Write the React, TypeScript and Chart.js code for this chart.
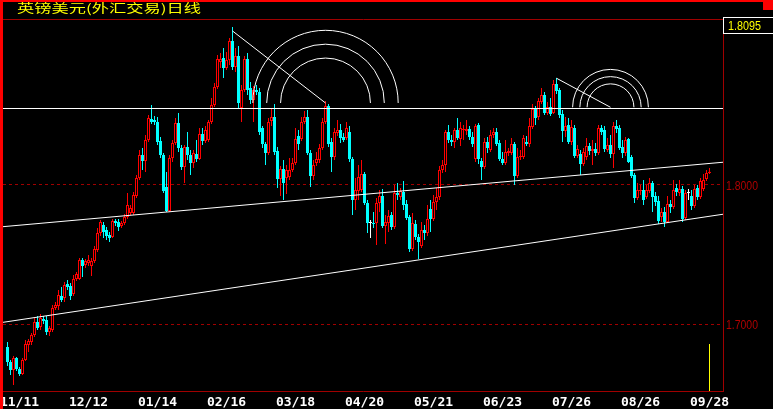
import React, { useEffect, useRef } from "react";
import { Chart, registerables } from "chart.js";

Chart.register(...registerables);

const TITLE = "英镑美元(外汇交易)日线";
const tickIndex = [4, 27, 50, 73, 96, 119, 142, 165, 188, 211, 234];
const tickLabels = ["11/11", "12/12", "01/14", "02/16", "03/18", "04/20", "05/21", "06/23", "07/26", "08/26", "09/28"];
const priceTicks = [1.7, 1.8];
const priceMin = 1.6518;
const priceMax = 1.91942;

const opens = [
  1.6835, 1.6727, 1.6669, 1.6755, 1.6676, 1.6640, 1.6741, 1.6849, 1.6871, 1.6921,
  1.7014, 1.6978, 1.7036, 1.7029, 1.6942, 1.6957, 1.7115, 1.7129, 1.7201, 1.7187,
  1.7288, 1.7273, 1.7216, 1.7324, 1.7324, 1.7460, 1.7424, 1.7439, 1.7417, 1.7453,
  1.7532, 1.7655, 1.7712, 1.7676, 1.7640, 1.7626, 1.7741, 1.7734, 1.7705, 1.7727,
  1.7770, 1.7799, 1.7799, 1.7921, 1.8050, 1.8216, 1.8173, 1.8324, 1.8475, 1.8468,
  1.8453, 1.8317, 1.8216, 1.7986, 1.7813, 1.8194, 1.8302, 1.8446, 1.8266, 1.8129,
  1.8273, 1.8216, 1.8158, 1.8223, 1.8187, 1.8367, 1.8317, 1.8324, 1.8453, 1.8576,
  1.8705, 1.8885, 1.8914, 1.8842, 1.8899, 1.9036, 1.8849, 1.8928, 1.8554, 1.8683,
  1.8906, 1.8698, 1.8612, 1.8683, 1.8669, 1.8410, 1.8295, 1.8230, 1.8460, 1.8489,
  1.8245, 1.8043, 1.8115, 1.8050, 1.8058, 1.8108, 1.8158, 1.8353, 1.8331, 1.8453,
  1.8489, 1.8230, 1.8065, 1.8158, 1.8180, 1.8266, 1.8453, 1.8568, 1.8309, 1.8201,
  1.8374, 1.8396, 1.8345, 1.8338, 1.8381, 1.8187, 1.7892, 1.7957, 1.7964, 1.8079,
  1.7871, 1.7727, 1.7727, 1.7727, 1.7871, 1.7921, 1.7705, 1.7727, 1.7784, 1.7698,
  1.7942, 1.7914, 1.7950, 1.7863, 1.7770, 1.7540, 1.7719, 1.7626, 1.7561, 1.7676,
  1.7655, 1.7827, 1.7755, 1.7878, 1.7914, 1.8108, 1.8144, 1.8381, 1.8324, 1.8309,
  1.8396, 1.8331, 1.8396, 1.8388, 1.8403, 1.8345, 1.8187, 1.8432, 1.8173, 1.8129,
  1.8309, 1.8252, 1.8360, 1.8381, 1.8302, 1.8187, 1.8158, 1.8230, 1.8230, 1.8295,
  1.8065, 1.8201, 1.8201, 1.8309, 1.8295, 1.8417, 1.8547, 1.8489, 1.8597, 1.8647,
  1.8518, 1.8561, 1.8518, 1.8727, 1.8683, 1.8511, 1.8388, 1.8432, 1.8309, 1.8410,
  1.8209, 1.8223, 1.8151, 1.8201, 1.8281, 1.8245, 1.8259, 1.8230, 1.8410, 1.8396,
  1.8252, 1.8288, 1.8223, 1.8424, 1.8410, 1.8273, 1.8230, 1.8331, 1.8201, 1.8072,
  1.7906, 1.7957, 1.7964, 1.7914, 1.7957, 1.8014, 1.7921, 1.7885, 1.7770, 1.7806,
  1.7734, 1.7863, 1.7842, 1.7978, 1.7942, 1.7971, 1.7763, 1.7942, 1.7921, 1.7849,
  1.7978, 1.7914, 1.7971, 1.8043, 1.8086,
];

const highs = [
  1.6871, 1.6741, 1.6770, 1.6763, 1.6691, 1.6755, 1.6885, 1.6892, 1.6935, 1.7043,
  1.7058, 1.7072, 1.7058, 1.7058, 1.6986, 1.7137, 1.7158, 1.7245, 1.7266, 1.7302,
  1.7317, 1.7295, 1.7353, 1.7374, 1.7475, 1.7475, 1.7468, 1.7496, 1.7475, 1.7561,
  1.7691, 1.7748, 1.7734, 1.7698, 1.7662, 1.7755, 1.7755, 1.7755, 1.7741, 1.7791,
  1.7942, 1.7856, 1.7950, 1.8072, 1.8252, 1.8266, 1.8360, 1.8504, 1.8576, 1.8496,
  1.8489, 1.8345, 1.8230, 1.8094, 1.8216, 1.8324, 1.8482, 1.8518, 1.8288, 1.8288,
  1.8381, 1.8252, 1.8252, 1.8324, 1.8410, 1.8410, 1.8424, 1.8468, 1.8626, 1.8734,
  1.8935, 1.8950, 1.8986, 1.8957, 1.9058, 1.9137, 1.8986, 1.9000, 1.8719, 1.8928,
  1.8950, 1.8741, 1.8712, 1.8719, 1.8698, 1.8424, 1.8309, 1.8482, 1.8554, 1.8583,
  1.8273, 1.8137, 1.8180, 1.8144, 1.8194, 1.8194, 1.8410, 1.8396, 1.8489, 1.8532,
  1.8540, 1.8252, 1.8180, 1.8237, 1.8295, 1.8482, 1.8604, 1.8583, 1.8338, 1.8410,
  1.8468, 1.8439, 1.8374, 1.8453, 1.8424, 1.8201, 1.8050, 1.8144, 1.8180, 1.8094,
  1.7892, 1.7748, 1.7806, 1.7906, 1.7964, 1.7971, 1.7784, 1.7820, 1.7806, 1.8000,
  1.8014, 1.7978, 1.8029, 1.7892, 1.7784, 1.7799, 1.7748, 1.7647, 1.7734, 1.7712,
  1.7856, 1.7892, 1.7928, 1.7978, 1.8137, 1.8180, 1.8396, 1.8432, 1.8360, 1.8410,
  1.8482, 1.8453, 1.8432, 1.8468, 1.8424, 1.8381, 1.8439, 1.8446, 1.8194, 1.8338,
  1.8345, 1.8396, 1.8410, 1.8410, 1.8324, 1.8237, 1.8324, 1.8266, 1.8338, 1.8309,
  1.8266, 1.8252, 1.8360, 1.8353, 1.8482, 1.8583, 1.8568, 1.8626, 1.8698, 1.8669,
  1.8597, 1.8626, 1.8755, 1.8770, 1.8698, 1.8540, 1.8489, 1.8482, 1.8468, 1.8432,
  1.8288, 1.8252, 1.8266, 1.8338, 1.8302, 1.8324, 1.8302, 1.8432, 1.8432, 1.8424,
  1.8338, 1.8360, 1.8453, 1.8468, 1.8432, 1.8324, 1.8345, 1.8338, 1.8216, 1.8086,
  1.8014, 1.8000, 1.8036, 1.8000, 1.8050, 1.8029, 1.7950, 1.7921, 1.7835, 1.7842,
  1.7921, 1.7892, 1.8036, 1.8007, 1.8036, 1.7993, 1.7964, 1.7971, 1.7964, 1.8000,
  1.8000, 1.8050, 1.8079, 1.8108, 1.8122,
];

const lows = [
  1.6698, 1.6633, 1.6561, 1.6662, 1.6626, 1.6633, 1.6734, 1.6799, 1.6849, 1.6906,
  1.6957, 1.6957, 1.7000, 1.6921, 1.6914, 1.6942, 1.7101, 1.7101, 1.7158, 1.7158,
  1.7245, 1.7173, 1.7201, 1.7309, 1.7317, 1.7338, 1.7403, 1.7417, 1.7345, 1.7439,
  1.7518, 1.7633, 1.7619, 1.7604, 1.7590, 1.7619, 1.7705, 1.7669, 1.7691, 1.7712,
  1.7755, 1.7784, 1.7784, 1.7906, 1.8036, 1.8108, 1.8094, 1.8309, 1.8439, 1.8432,
  1.8288, 1.8194, 1.7942, 1.7806, 1.7806, 1.8165, 1.8288, 1.8237, 1.8108, 1.8014,
  1.8180, 1.8072, 1.8122, 1.8165, 1.8180, 1.8288, 1.8302, 1.8309, 1.8439, 1.8561,
  1.8691, 1.8842, 1.8770, 1.8827, 1.8863, 1.8827, 1.8813, 1.8554, 1.8453, 1.8669,
  1.8647, 1.8583, 1.8453, 1.8647, 1.8360, 1.8266, 1.8144, 1.8216, 1.8424, 1.8216,
  1.7978, 1.7921, 1.7892, 1.7935, 1.8036, 1.8094, 1.8144, 1.8252, 1.8317, 1.8439,
  1.8216, 1.7986, 1.8036, 1.8137, 1.8158, 1.8252, 1.8439, 1.8273, 1.8094, 1.8180,
  1.8353, 1.8302, 1.8309, 1.8324, 1.8165, 1.7784, 1.7820, 1.7892, 1.7950, 1.7856,
  1.7655, 1.7619, 1.7691, 1.7568, 1.7806, 1.7691, 1.7576, 1.7662, 1.7676, 1.7683,
  1.7892, 1.7892, 1.7820, 1.7748, 1.7518, 1.7525, 1.7604, 1.7468, 1.7547, 1.7604,
  1.7633, 1.7662, 1.7741, 1.7820, 1.7892, 1.8086, 1.8094, 1.8302, 1.8281, 1.8266,
  1.8324, 1.8281, 1.8324, 1.8360, 1.8324, 1.8273, 1.8165, 1.8151, 1.8036, 1.8115,
  1.8230, 1.8237, 1.8338, 1.8281, 1.8173, 1.8144, 1.8144, 1.8209, 1.8216, 1.8000,
  1.8050, 1.8180, 1.8187, 1.8281, 1.8273, 1.8403, 1.8432, 1.8468, 1.8583, 1.8504,
  1.8504, 1.8496, 1.8511, 1.8655, 1.8482, 1.8309, 1.8345, 1.8295, 1.8288, 1.8194,
  1.8194, 1.8072, 1.8137, 1.8180, 1.8216, 1.8144, 1.8209, 1.8216, 1.8360, 1.8237,
  1.8237, 1.8194, 1.8122, 1.8374, 1.8252, 1.8194, 1.8209, 1.8158, 1.8050, 1.7871,
  1.7892, 1.7928, 1.7856, 1.7899, 1.7942, 1.7806, 1.7849, 1.7719, 1.7734, 1.7698,
  1.7727, 1.7799, 1.7827, 1.7921, 1.7921, 1.7734, 1.7748, 1.7892, 1.7820, 1.7835,
  1.7892, 1.7899, 1.7957, 1.8029, 1.8079,
];

const closes = [
  1.6727, 1.6669, 1.6755, 1.6676, 1.6640, 1.6741, 1.6856, 1.6878, 1.6921, 1.7014,
  1.6971, 1.7043, 1.7022, 1.6942, 1.6971, 1.7115, 1.7137, 1.7209, 1.7173, 1.7281,
  1.7266, 1.7201, 1.7324, 1.7360, 1.7460, 1.7417, 1.7453, 1.7460, 1.7453, 1.7540,
  1.7655, 1.7734, 1.7662, 1.7633, 1.7619, 1.7741, 1.7727, 1.7698, 1.7727, 1.7770,
  1.7856, 1.7835, 1.7928, 1.8050, 1.8216, 1.8173, 1.8324, 1.8482, 1.8453, 1.8453,
  1.8309, 1.8216, 1.7957, 1.7813, 1.8194, 1.8302, 1.8446, 1.8266, 1.8129, 1.8273,
  1.8216, 1.8158, 1.8230, 1.8187, 1.8367, 1.8317, 1.8396, 1.8453, 1.8576, 1.8705,
  1.8906, 1.8906, 1.8842, 1.8899, 1.9036, 1.8849, 1.8928, 1.8590, 1.8683, 1.8906,
  1.8683, 1.8612, 1.8683, 1.8669, 1.8381, 1.8295, 1.8230, 1.8453, 1.8489, 1.8237,
  1.8043, 1.8115, 1.8014, 1.8108, 1.8108, 1.8158, 1.8331, 1.8295, 1.8453, 1.8489,
  1.8230, 1.8065, 1.8144, 1.8187, 1.8266, 1.8453, 1.8568, 1.8295, 1.8201, 1.8381,
  1.8396, 1.8338, 1.8324, 1.8410, 1.8187, 1.7892, 1.7964, 1.8058, 1.8079, 1.7871,
  1.7727, 1.7727, 1.7719, 1.7871, 1.7921, 1.7705, 1.7734, 1.7777, 1.7698, 1.7942,
  1.7928, 1.7957, 1.7856, 1.7763, 1.7540, 1.7727, 1.7626, 1.7590, 1.7676, 1.7655,
  1.7755, 1.7755, 1.7878, 1.7914, 1.8108, 1.8144, 1.8381, 1.8324, 1.8309, 1.8396,
  1.8338, 1.8410, 1.8403, 1.8403, 1.8345, 1.8295, 1.8424, 1.8187, 1.8129, 1.8309,
  1.8266, 1.8360, 1.8381, 1.8295, 1.8187, 1.8158, 1.8237, 1.8245, 1.8295, 1.8065,
  1.8201, 1.8209, 1.8338, 1.8295, 1.8424, 1.8547, 1.8482, 1.8604, 1.8647, 1.8518,
  1.8561, 1.8511, 1.8727, 1.8676, 1.8504, 1.8388, 1.8424, 1.8309, 1.8417, 1.8209,
  1.8259, 1.8151, 1.8237, 1.8281, 1.8245, 1.8259, 1.8230, 1.8410, 1.8381, 1.8259,
  1.8288, 1.8223, 1.8424, 1.8403, 1.8266, 1.8230, 1.8324, 1.8165, 1.8065, 1.7906,
  1.7964, 1.7964, 1.7892, 1.7964, 1.8014, 1.7914, 1.7878, 1.7741, 1.7806, 1.7734,
  1.7863, 1.7842, 1.7964, 1.7950, 1.7971, 1.7755, 1.7942, 1.7942, 1.7849, 1.7971,
  1.7914, 1.8029, 1.8036, 1.8086, 1.8095,
];

// drawn studies (index, price)
const resistanceLevel = 1.8554;
const upperTrend = [[0, 1.7703], [234, 1.8155]];
const lowerTrend = [[0, 1.7017], [234, 1.7775]];
const fanLines = [
  [[75, 1.9108], [106, 1.8590]],
  [[183, 1.8768], [201, 1.8559]],
];
const fibRatios = [0.382, 0.5, 0.618];
const markerLevel = 1.6856;

const RED = "#ff0000";
const CYAN = "#00ffff";
const WHITE = "#ffffff";
const DARK_RED = "#a00000";
const YELLOW = "#ffff00";
const SANS = "'Liberation Sans', Arial, sans-serif";

function kindOf(i: number) {
  if (closes[i] > opens[i]) return "up";
  if (closes[i] < opens[i]) return "down";
  return "flat";
}
function colorOf(i: number) {
  const k = kindOf(i);
  return k === "up" ? RED : k === "down" ? CYAN : WHITE;
}

// draw text squeezed horizontally to a target width
function squeezedText(ctx: any, text: string, x: number, y: number, width: number) {
  const w = ctx.measureText(text).width;
  ctx.save();
  ctx.translate(x, y);
  ctx.scale(width / w, 1);
  ctx.fillText(text, 0, 0);
  ctx.restore();
}

const overlayPlugin = {
  id: "overlay",
  beforeDraw(chart: any) {
    const c = chart.ctx;
    c.save();
    c.fillStyle = "#000";
    c.fillRect(0, 0, chart.width, chart.height);
    c.restore();
  },
  afterDatasetsDraw(chart: any) {
    const { ctx, chartArea: a, scales } = chart;
    const xs = scales.x, ys = scales.y;
    const px = (i: number) => xs.getPixelForValue(i);
    const py = (p: number) => ys.getPixelForValue(p);
    const line = (x1: number, y1: number, x2: number, y2: number) => {
      ctx.beginPath();
      ctx.moveTo(x1, y1);
      ctx.lineTo(x2, y2);
      ctx.stroke();
    };
    ctx.save();
    ctx.beginPath();
    ctx.rect(a.left, a.top, a.right - a.left, a.bottom - a.top);
    ctx.clip();
    ctx.strokeStyle = WHITE;
    ctx.lineWidth = 1;
    const hy = Math.round(py(resistanceLevel)) + 0.5;
    line(a.left, hy, a.right, hy);
    for (const t of [upperTrend, lowerTrend]) {
      const x1 = px(t[0][0]), y1 = py(t[0][1]);
      const x2 = px(t[1][0]), y2 = py(t[1][1]);
      const k = (y2 - y1) / (x2 - x1);
      line(a.left, y1 + k * (a.left - x1), a.right, y1 + k * (a.right - x1));
    }
    for (const f of fanLines) {
      const x1 = px(f[0][0]), y1 = py(f[0][1]);
      const x2 = px(f[1][0]), y2 = py(f[1][1]);
      line(x1, y1, x2, y2);
      const L = Math.hypot(x2 - x1, y2 - y1);
      for (const r of fibRatios) {
        ctx.beginPath();
        ctx.arc(x2, y2, r * L, Math.PI, 2 * Math.PI);
        ctx.stroke();
      }
    }
    ctx.strokeStyle = YELLOW;
    const mx = px(closes.length - 1);
    line(mx, py(markerLevel), mx, a.bottom);
    ctx.restore();
  },
  afterDraw(chart: any) {
    const { ctx, chartArea: a, scales } = chart;
    const ys = scales.y;
    ctx.save();
    ctx.strokeStyle = DARK_RED;
    ctx.lineWidth = 1;
    ctx.beginPath();
    ctx.moveTo(a.left, a.top + 0.5);
    ctx.lineTo(a.right + 1, a.top + 0.5);
    ctx.stroke();
    ctx.fillStyle = RED;
    ctx.fillRect(0, 0, 3, chart.height);
    ctx.fillRect(0, 0, chart.width, 2);
    ctx.fillRect(763, 0, 10, 10);
    // price axis labels (positions from the y scale)
    ctx.font = "13px " + SANS;
    ctx.textAlign = "left";
    ctx.textBaseline = "middle";
    ctx.fillStyle = "#b00000";
    for (const p of priceTicks) {
      squeezedText(ctx, p.toFixed(4), a.right + 3, ys.getPixelForValue(p) + 1, 32);
    }
    // last price box
    ctx.strokeStyle = WHITE;
    ctx.strokeRect(a.right + 0.5, 17.5, 52, 16);
    ctx.fillStyle = YELLOW;
    ctx.textBaseline = "alphabetic";
    squeezedText(ctx, closes[closes.length - 1].toFixed(4), a.right + 5, 30, 33);
    // title
    ctx.font = "12px 'Noto Sans CJK SC'";
    ctx.fillStyle = YELLOW;
    squeezedText(ctx, TITLE, 17, 12.5, 184);
    ctx.restore();
  },
};

export default function App() {
  const ref = useRef<HTMLCanvasElement>(null);
  useEffect(() => {
    const canvas = ref.current;
    if (!canvas) return;
    const idx = closes.map((_, i) => i);
    const bodyData = idx.map((i) => ({ x: i, y: [opens[i], closes[i]] }));
    const wickData = idx.map((i) => ({ x: i, y: [lows[i], highs[i]] }));
    const chart = new Chart(canvas, {
      type: "bar",
      data: {
        datasets: [
          {
            label: "wick",
            data: wickData as any,
            order: 2,
            grouped: false,
            barThickness: 1,
            maxBarThickness: 1,
            borderWidth: 0,
            inflateAmount: 0,
            backgroundColor: (c: any) => colorOf(c.dataIndex),
          } as any,
          {
            label: "body",
            data: bodyData as any,
            order: 1,
            grouped: false,
            barThickness: 3,
            maxBarThickness: 3,
            borderWidth: 1,
            borderSkipped: false,
            inflateAmount: 0,
            minBarLength: 1,
            backgroundColor: (c: any) => (kindOf(c.dataIndex) === "up" ? "#000000" : colorOf(c.dataIndex)),
            borderColor: (c: any) => colorOf(c.dataIndex),
          } as any,
        ],
      },
      options: {
        responsive: false,
        animation: false,
        devicePixelRatio: 1,
        events: [],
        layout: { padding: { left: 3, top: 19, right: 0, bottom: 0 } },
        plugins: { legend: { display: false }, tooltip: { enabled: false }, title: { display: false } },
        scales: {
          x: {
            type: "linear",
            min: -1.5,
            max: 238.5,
            offset: false,
            grid: { display: false },
            border: { display: true, color: DARK_RED, width: 1 },
            afterBuildTicks: (s: any) => {
              s.ticks = tickIndex.map((v) => ({ value: v }));
            },
            afterFit: (s: any) => {
              s.height = 18;
              s.paddingLeft = 0;
              s.paddingRight = 0;
            },
            ticks: {
              autoSkip: false,
              maxRotation: 0,
              minRotation: 0,
              padding: -4,
              color: WHITE,
              font: { family: "'DejaVu Sans Mono', monospace", size: 13, weight: "bold", lineHeight: 1.2 },
              callback: (v: any) => {
                const k = tickIndex.indexOf(Number(v));
                return k >= 0 ? tickLabels[k] : "";
              },
            },
          },
          y: {
            type: "linear",
            position: "right",
            min: priceMin,
            max: priceMax,
            beginAtZero: false,
            grid: { color: DARK_RED, lineWidth: 1, drawTicks: false },
            border: { display: true, color: DARK_RED, width: 1, dash: [3, 3] },
            afterBuildTicks: (s: any) => {
              s.ticks = priceTicks.map((v) => ({ value: v }));
            },
            afterFit: (s: any) => {
              s.width = 50;
              s.paddingTop = 0;
              s.paddingBottom = 0;
            },
            ticks: { display: false },
          },
        },
      } as any,
      plugins: [overlayPlugin],
    });
    return () => chart.destroy();
  }, []);
  return (
    <div style={{ position: "fixed", left: 0, top: 0, width: 773, height: 409, background: "#000", overflow: "hidden" }}>
      <canvas ref={ref} width={773} height={409} style={{ display: "block", width: 773, height: 409 }} />
    </div>
  );
}
